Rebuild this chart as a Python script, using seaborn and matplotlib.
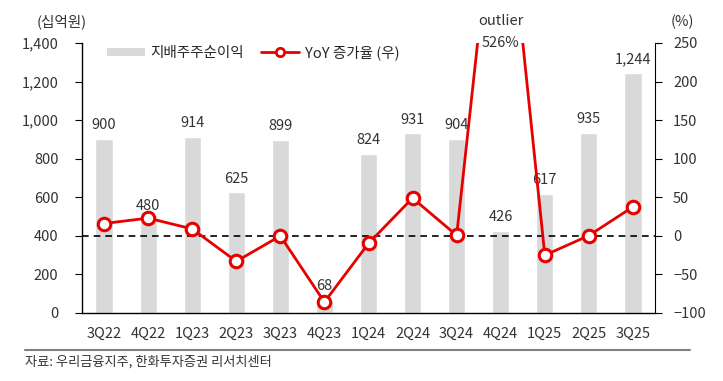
import numpy as np
import pandas as pd
import matplotlib
matplotlib.use("Agg")
import matplotlib.pyplot as plt
import seaborn as sns
from matplotlib.lines import Line2D
from matplotlib.patches import Patch

# 데이터
quarters = ["3Q22", "4Q22", "1Q23", "2Q23", "3Q23", "4Q23", "1Q24",
            "2Q24", "3Q24", "4Q24", "1Q25", "2Q25", "3Q25"]
net_income = [900, 480, 914, 625, 899, 68, 824, 931, 904, 426, 617, 935, 1244]
yoy_growth = [16, 23, 9, -33, -0.1, -85.8, -9.8, 49, 0.6, 526, -25.1, 0.4, 37.6]

sns.set_style("white")
plt.rcParams["font.family"] = ["Noto Sans CJK KR", "DejaVu Sans"]

df = pd.DataFrame({"q": quarters, "ni": net_income, "yoy": yoy_growth})
df["pos"] = np.arange(len(df))

fig = plt.figure(figsize=(7.23, 3.81), dpi=100)
ax = fig.add_axes([82/723, 1-313/381, (655-82)/723, (313-43)/381])

sns.barplot(data=df, x="q", y="ni", color="#d9d9d9", saturation=1,
            width=0.39, ax=ax, zorder=1)
ax.bar_label(ax.containers[0], labels=[f"{v:,}" for v in net_income],
             padding=5, fontsize=10.5, color="#333333")
ax.set_ylim(0, 1400)
ax.set_yticks(range(0, 1401, 200))
ax.set_yticklabels([f"{v:,}" for v in range(0, 1401, 200)])
ax.set_xlim(-0.5, len(quarters) - 0.5)
ax.set_xlabel("")
ax.set_ylabel("")

# x축 눈금은 카테고리 경계에
ax.set_xticks(np.arange(len(quarters) + 1) - 0.5)
ax.set_xticklabels([])
ax.set_xticks(np.arange(len(quarters)), minor=True)
ax.set_xticklabels(quarters, minor=True)
ax.tick_params(axis="x", which="major", direction="out", length=5, color="black")
ax.tick_params(axis="x", which="minor", length=0, pad=10, labelsize=10.5, labelcolor="#333333")
ax.tick_params(axis="y", direction="out", length=5, color="black", pad=12,
               labelsize=10.5, labelcolor="#333333")
for s in ["top", "right"]:
    ax.spines[s].set_visible(False)
for s in ["left", "bottom"]:
    ax.spines[s].set_color("black")
    ax.spines[s].set_linewidth(1)

# 우축: YoY 증가율
ax2 = ax.twinx()
ax2.axhline(0, color="black", ls=(0, (4, 3)), lw=1.2, zorder=1)
sns.lineplot(data=df, x="pos", y="yoy", ax=ax2, color="#e60000", lw=2,
             marker="o", markersize=9, markerfacecolor="white",
             markeredgecolor="#e60000", markeredgewidth=2.2, zorder=3)
ax2.set_ylim(-100, 250)
ax2.set_yticks(range(-100, 251, 50))
ax2.set_xlim(-0.5, len(quarters) - 0.5)
ax2.set_xlabel("")
ax2.set_ylabel("")
ax2.tick_params(axis="y", direction="out", length=5, color="black", pad=8,
                labelsize=10.5, labelcolor="#333333")
for s in ["top", "left", "bottom"]:
    ax2.spines[s].set_visible(False)
ax2.spines["right"].set_color("black")

ax2.text(9, 250, "526%", ha="center", va="center", fontsize=10.5,
         color="#333333", clip_on=False,
         bbox=dict(facecolor="white", edgecolor="none", pad=1))
ax2.text(9, 278, "outlier", ha="center", va="center", fontsize=10.5,
         color="#333333", clip_on=False)

handles = [Patch(facecolor="#d9d9d9", edgecolor="none"),
           Line2D([], [], color="#e60000", lw=2, marker="o", markersize=6,
                  markerfacecolor="white", markeredgecolor="#e60000", markeredgewidth=2)]
ax2.legend(handles, ["지배주주순이익", "YoY 증가율 (우)"], loc="upper left",
           bbox_to_anchor=(0.02, 1.04), ncol=2, frameon=False, fontsize=10.5,
           handlelength=2.6, handleheight=0.5, columnspacing=1.2, handletextpad=0.4)

fig.text(62/723, 1-22/381, "(십억원)", ha="center", va="center", fontsize=10.5, color="#333333")
fig.text(682/723, 1-22/381, "(%)", ha="center", va="center", fontsize=10.5, color="#333333")

fig.add_artist(Line2D([25/723, 690/723], [1-350/381, 1-350/381],
                      color="#808080", lw=1.5, transform=fig.transFigure))
fig.text(25/723, 1-362/381, "자료: 우리금융지주, 한화투자증권 리서치센터",
         ha="left", va="center", fontsize=9.5, color="#333333")

fig.savefig("out.png", dpi=100)
